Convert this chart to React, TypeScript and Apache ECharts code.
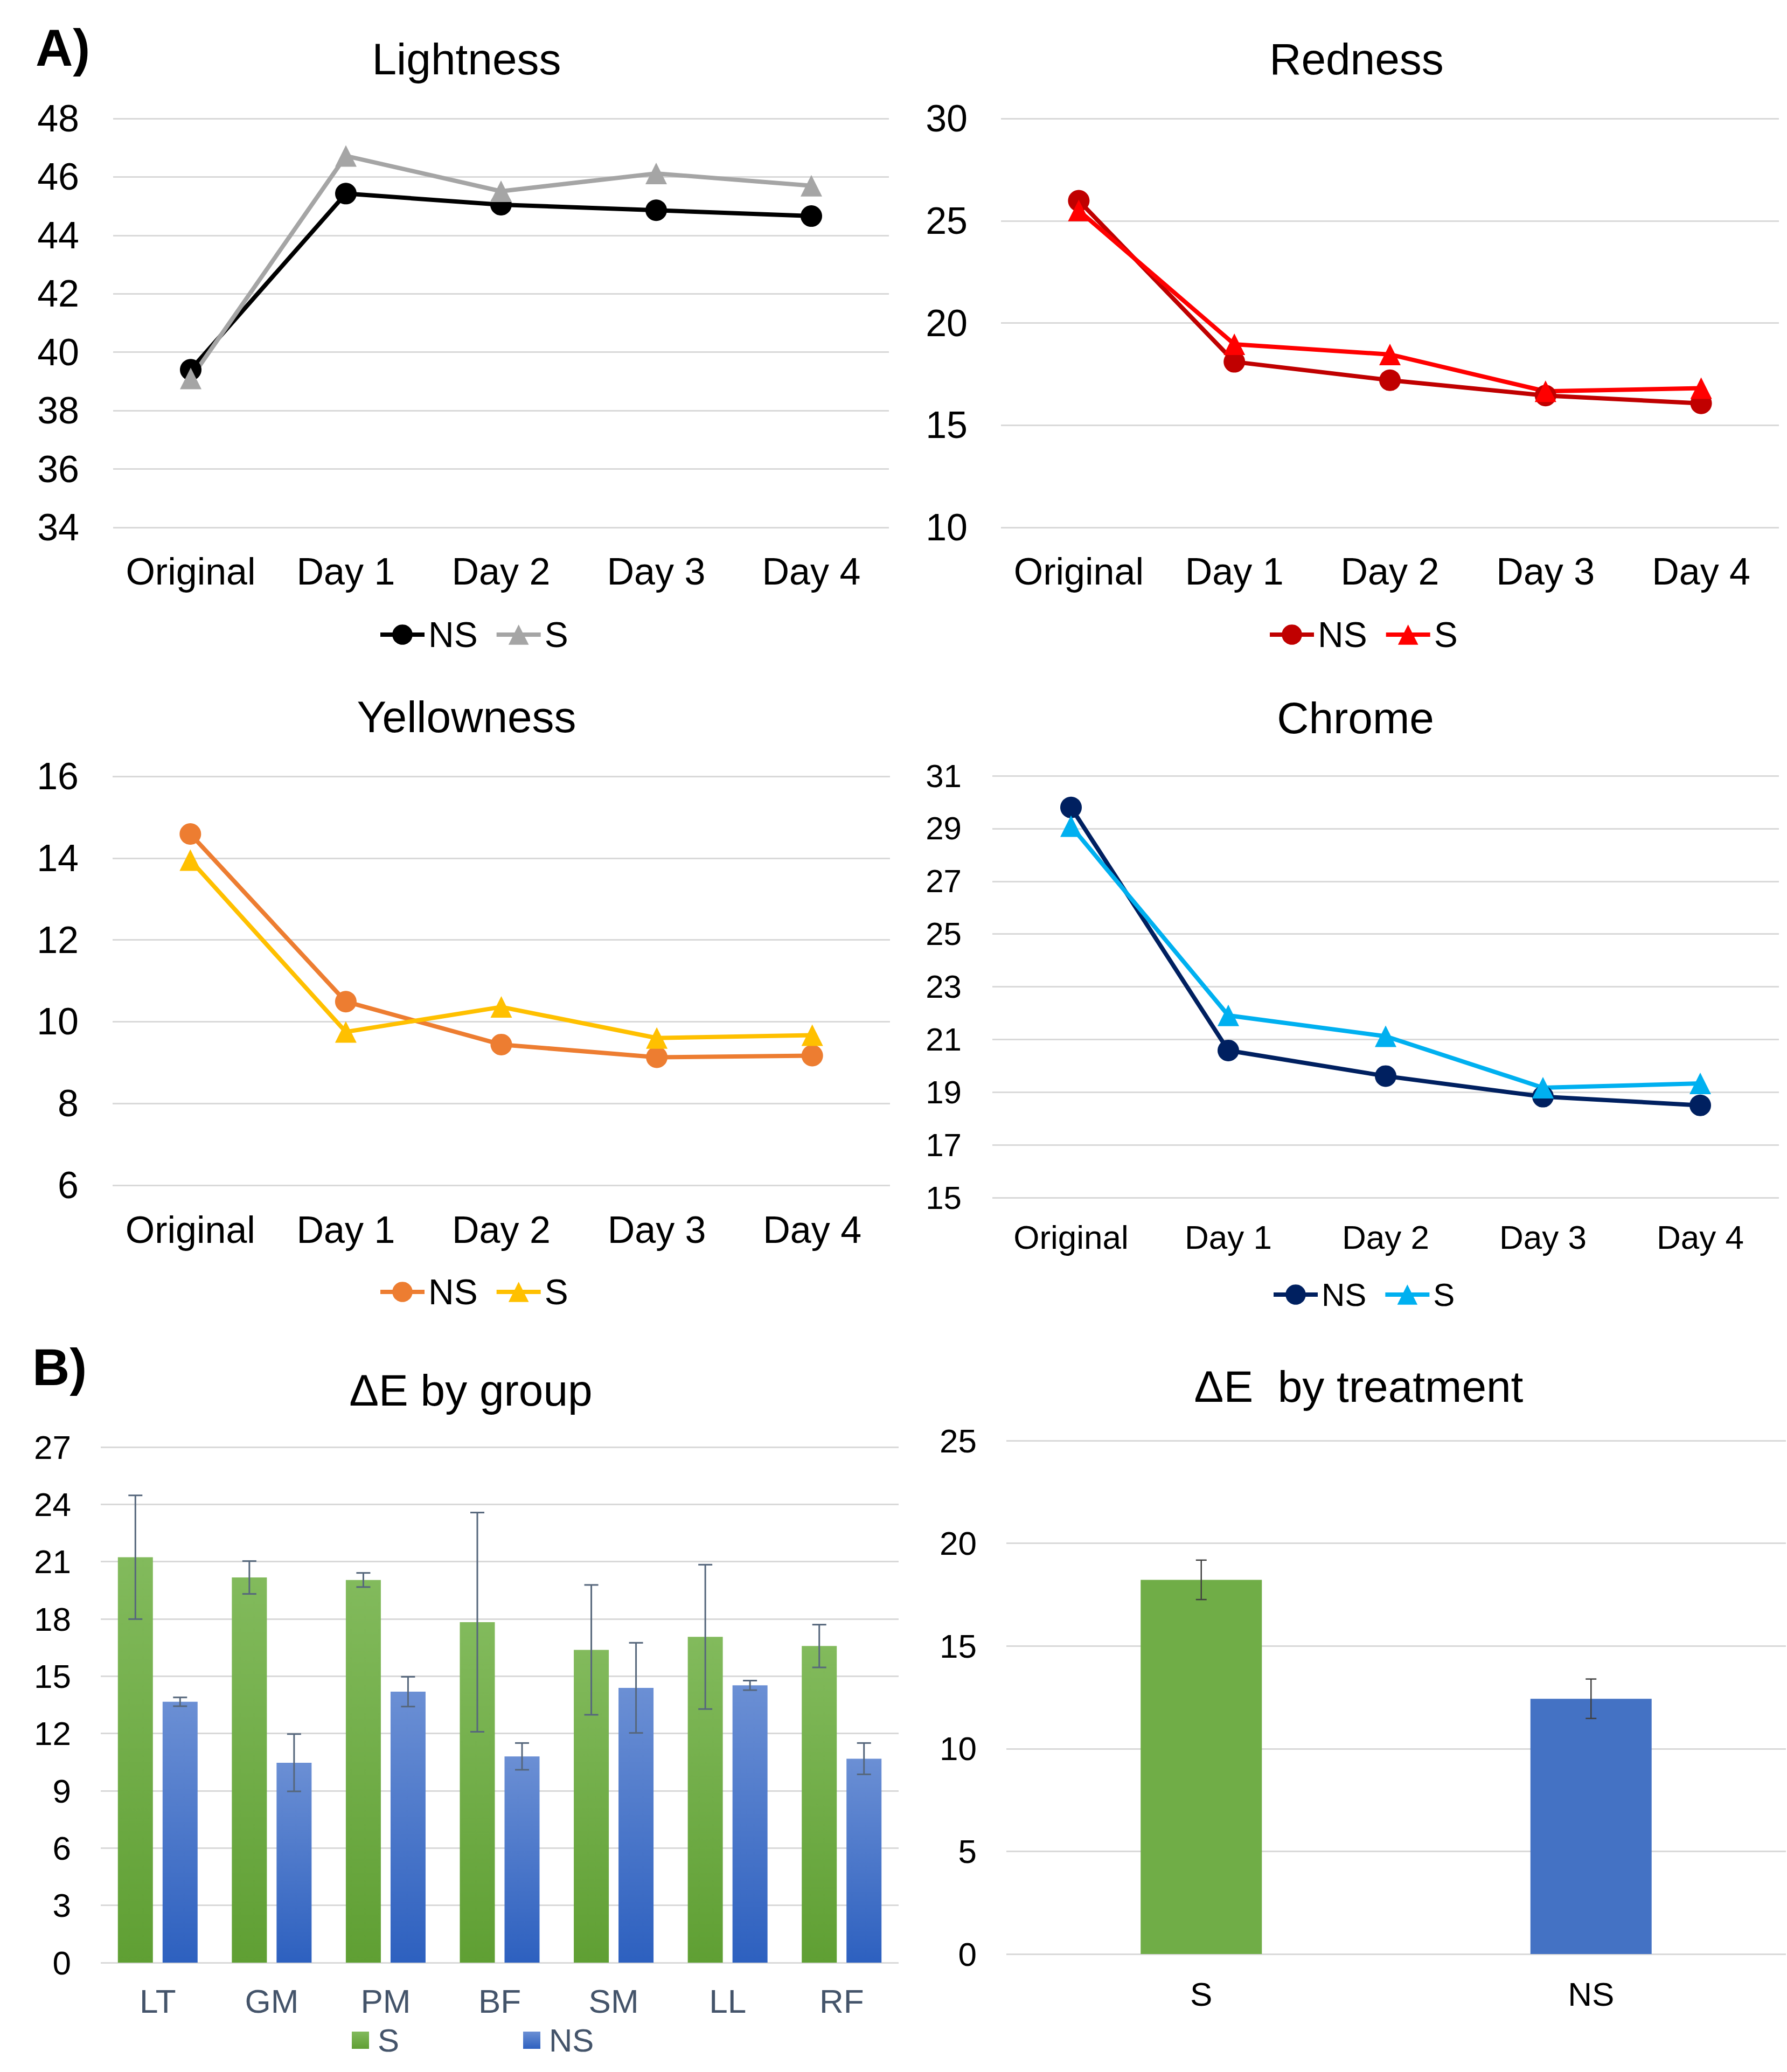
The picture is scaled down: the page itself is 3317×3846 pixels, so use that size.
import React, { useEffect, useRef } from "react";
import * as echarts from "echarts";

// ---------- data ----------
const days = ["Original", "Day 1", "Day 2", "Day 3", "Day 4"];

const lightnessNS = [39.4, 45.43, 45.05, 44.86, 44.66];
const lightnessS = [39.1, 46.72, 45.51, 46.12, 45.7];

const rednessNS = [25.98, 18.1, 17.2, 16.45, 16.07];
const rednessS = [25.5, 18.96, 18.46, 16.66, 16.81];

const yellownessNS = [14.59, 10.49, 9.44, 9.13, 9.17];
const yellownessS = [13.95, 9.75, 10.36, 9.6, 9.67];

const chromeNS = [29.8, 20.58, 19.61, 18.83, 18.5];
const chromeS = [29.09, 21.91, 21.12, 19.17, 19.33];

const groups = ["LT", "GM", "PM", "BF", "SM", "LL", "RF"];
const groupS = [21.23, 20.17, 20.04, 17.83, 16.38, 17.06, 16.58];
const groupSErr = [3.24, 0.86, 0.37, 5.74, 3.4, 3.78, 1.12];
const groupNS = [13.66, 10.47, 14.19, 10.8, 14.39, 14.52, 10.68];
const groupNSErr = [0.23, 1.5, 0.78, 0.7, 2.36, 0.25, 0.82];

const treatments = ["S", "NS"];
const treatmentValues = [18.22, 12.43];
const treatmentErr = [0.96, 0.96];

// ---------- styles ----------
const FONT = "'Liberation Sans', Arial, sans-serif";
const PAGE_W = 3317;
const PAGE_H = 3846;
const GRID_COLOR = "#d9d9d9";
const LINE_W = 8;
const SYMBOL = 40;

function headText(text: string, x: number, y: number, size: number, bold = false, align = "center") {
  return {
    type: "text",
    x,
    y,
    silent: true,
    style: {
      text,
      fill: "#000",
      fontSize: size,
      fontFamily: FONT,
      fontWeight: bold ? "bold" : "normal",
      textAlign: align,
      align,
      textVerticalAlign: "middle",
      verticalAlign: "middle",
    },
  };
}

type LineCfg = {
  title: string;
  titleX: number;
  titleY: number;
  left: number;
  top: number;
  right: number;
  bottom: number;
  min: number;
  max: number;
  interval: number;
  ns: number[];
  s: number[];
  nsColor: string;
  sColor: string;
  yFont: number;
  xFont: number;
  yMargin: number;
  xMargin: number;
  legendLeft: number;
  legendTop: number;
  legendFont: number;
  extra?: any[];
};

function lineOption(c: LineCfg) {
  return {
    animation: false,
    textStyle: { fontFamily: FONT },
    graphic: [headText(c.title, c.titleX, c.titleY, 82), ...(c.extra || [])],
    grid: {
      left: c.left,
      top: c.top,
      width: c.right - c.left,
      height: c.bottom - c.top,
      containLabel: false,
    },
    legend: {
      data: ["NS", "S"],
      left: c.legendLeft,
      top: c.legendTop,
      itemWidth: 82,
      itemHeight: 47,
      itemGap: 31,
      selectedMode: false,
      lineStyle: { width: LINE_W },
      textStyle: {
        fontSize: c.legendFont,
        color: "#000",
        fontFamily: FONT,
        padding: [0, 0, 0, 2],
      },
    },
    xAxis: {
      type: "category",
      data: days,
      boundaryGap: true,
      axisLine: { show: false },
      axisTick: { show: false },
      axisLabel: {
        interval: 0,
        fontSize: c.xFont,
        color: "#000",
        fontFamily: FONT,
        margin: c.xMargin,
      },
    },
    yAxis: {
      type: "value",
      min: c.min,
      max: c.max,
      interval: c.interval,
      axisLine: { show: false },
      axisTick: { show: false },
      axisLabel: {
        fontSize: c.yFont,
        color: "#000",
        fontFamily: FONT,
        margin: c.yMargin,
      },
      splitLine: { show: true, lineStyle: { color: GRID_COLOR, width: 3 } },
    },
    series: [
      {
        name: "NS",
        type: "line",
        data: c.ns,
        symbol: "circle",
        symbolSize: SYMBOL,
        lineStyle: { color: c.nsColor, width: LINE_W },
        itemStyle: { color: c.nsColor },
      },
      {
        name: "S",
        type: "line",
        data: c.s,
        symbol: "triangle",
        symbolSize: SYMBOL,
        lineStyle: { color: c.sColor, width: LINE_W },
        itemStyle: { color: c.sColor },
      },
    ],
  };
}

function errorSeries(name: string, values: number[], errs: number[], offset: number, cap: number, color: string, width: number) {
  return {
    name,
    type: "custom",
    z: 10,
    silent: true,
    data: values.map((v, i) => [i, v, errs[i]]),
    renderItem: (params: any, api: any) => {
      const idx = api.value(0);
      const v = api.value(1);
      const e = api.value(2);
      const top = api.coord([idx, v + e]);
      const bot = api.coord([idx, v - e]);
      const x = top[0] + offset;
      const style = { stroke: color, lineWidth: width };
      return {
        type: "group",
        children: [
          { type: "line", shape: { x1: x, y1: top[1], x2: x, y2: bot[1] }, style },
          { type: "line", shape: { x1: x - cap, y1: top[1], x2: x + cap, y2: top[1] }, style },
          { type: "line", shape: { x1: x - cap, y1: bot[1], x2: x + cap, y2: bot[1] }, style },
        ],
      };
    },
  };
}

function grad(top: string, bottom: string) {
  return {
    type: "linear",
    x: 0,
    y: 0,
    x2: 0,
    y2: 1,
    colorStops: [
      { offset: 0, color: top },
      { offset: 1, color: bottom },
    ],
  };
}

const GROUP_BAR_W = 65;
const GROUP_BAR_GAP = 18;

function groupOption() {
  const off = (GROUP_BAR_W + GROUP_BAR_GAP) / 2;
  return {
    animation: false,
    textStyle: { fontFamily: FONT },
    graphic: [headText("ΔE by group", 874, 2580, 82), headText("B)", 60, 2537, 96, true, "left")],
    grid: { left: 187, top: 2686, width: 1481, height: 957, containLabel: false },
    legend: {
      data: ["S", "NS"],
      left: 648,
      top: 3752,
      icon: "rect",
      itemWidth: 32,
      itemHeight: 32,
      itemGap: 230,
      selectedMode: false,
      textStyle: { fontSize: 60, color: "#44546A", fontFamily: FONT, padding: [0, 0, 0, 11] },
    },
    xAxis: {
      type: "category",
      data: groups,
      axisLine: { show: false },
      axisTick: { show: false },
      axisLabel: { interval: 0, fontSize: 62, color: "#44546A", fontFamily: FONT, margin: 40 },
    },
    yAxis: {
      type: "value",
      min: 0,
      max: 27,
      interval: 3,
      axisLine: { show: false },
      axisTick: { show: false },
      axisLabel: { fontSize: 62, color: "#000", fontFamily: FONT, margin: 55 },
      splitLine: { show: true, lineStyle: { color: GRID_COLOR, width: 3 } },
    },
    series: [
      {
        name: "S",
        type: "bar",
        data: groupS,
        barWidth: GROUP_BAR_W,
        barGap: `${(GROUP_BAR_GAP / GROUP_BAR_W) * 100}%`,
        itemStyle: { color: grad("#82ba5c", "#5f9f33") },
      },
      {
        name: "NS",
        type: "bar",
        data: groupNS,
        barWidth: GROUP_BAR_W,
        barGap: `${(GROUP_BAR_GAP / GROUP_BAR_W) * 100}%`,
        itemStyle: { color: grad("#6b8fd4", "#2d60bf") },
      },
      errorSeries("S error", groupS, groupSErr, -off, 13, "#56677c", 3),
      errorSeries("NS error", groupNS, groupNSErr, off, 13, "#56677c", 3),
    ],
  };
}

const TREATMENT_COLORS = ["#70ad47", "#4472c4"];

function treatmentOption() {
  return {
    animation: false,
    textStyle: { fontFamily: FONT },
    graphic: [headText("ΔE  by treatment", 2522, 2573, 82)],
    grid: { left: 1868, top: 2674, width: 1447, height: 953, containLabel: false },
    xAxis: {
      type: "category",
      data: treatments,
      axisLine: { show: false },
      axisTick: { show: false },
      axisLabel: { interval: 0, fontSize: 62, color: "#000", fontFamily: FONT, margin: 43 },
    },
    yAxis: {
      type: "value",
      min: 0,
      max: 25,
      interval: 5,
      axisLine: { show: false },
      axisTick: { show: false },
      axisLabel: { fontSize: 62, color: "#000", fontFamily: FONT, margin: 55 },
      splitLine: { show: true, lineStyle: { color: GRID_COLOR, width: 3 } },
    },
    series: [
      {
        name: "ΔE",
        type: "bar",
        barWidth: 225,
        data: treatmentValues.map((v, i) => ({ value: v, itemStyle: { color: TREATMENT_COLORS[i] } })),
      },
      errorSeries("error", treatmentValues, treatmentErr, 0, 10, "#404040", 2.5),
    ],
  };
}

const options: any[] = [
  lineOption({
    title: "Lightness",
    titleX: 866,
    titleY: 109,
    left: 210,
    top: 220,
    right: 1650,
    bottom: 979,
    min: 34,
    max: 48,
    interval: 2,
    ns: lightnessNS,
    s: lightnessS,
    nsColor: "#000000",
    sColor: "#a5a5a5",
    yFont: 70,
    xFont: 70,
    yMargin: 63,
    xMargin: 47,
    legendLeft: 697,
    legendTop: 1140,
    legendFont: 66,
    extra: [headText("A)", 66, 88, 96, true, "left")],
  }),
  lineOption({
    title: "Redness",
    titleX: 2518,
    titleY: 109,
    left: 1858,
    top: 220,
    right: 3302,
    bottom: 979,
    min: 10,
    max: 30,
    interval: 5,
    ns: rednessNS,
    s: rednessS,
    nsColor: "#c00000",
    sColor: "#ff0000",
    yFont: 70,
    xFont: 70,
    yMargin: 62,
    xMargin: 47,
    legendLeft: 2348,
    legendTop: 1140,
    legendFont: 66,
  }),
  lineOption({
    title: "Yellowness",
    titleX: 866,
    titleY: 1330,
    left: 209,
    top: 1441,
    right: 1652,
    bottom: 2200,
    min: 6,
    max: 16,
    interval: 2,
    ns: yellownessNS,
    s: yellownessS,
    nsColor: "#ed7d31",
    sColor: "#ffc000",
    yFont: 70,
    xFont: 70,
    yMargin: 63,
    xMargin: 48,
    legendLeft: 697,
    legendTop: 2360,
    legendFont: 66,
  }),
  lineOption({
    title: "Chrome",
    titleX: 2516,
    titleY: 1332,
    left: 1842,
    top: 1440,
    right: 3302,
    bottom: 2223,
    min: 15,
    max: 31,
    interval: 2,
    ns: chromeNS,
    s: chromeS,
    nsColor: "#002060",
    sColor: "#00b0f0",
    yFont: 60,
    xFont: 62,
    yMargin: 57,
    xMargin: 42,
    legendLeft: 2355,
    legendTop: 2368,
    legendFont: 60,
  }),
  groupOption(),
  treatmentOption(),
];

function Layer({ option }: { option: any }) {
  const ref = useRef<HTMLDivElement>(null);
  useEffect(() => {
    if (!ref.current) return;
    const chart = echarts.init(ref.current, null, { renderer: "svg" });
    chart.setOption(option);
    return () => chart.dispose();
  }, [option]);
  return (
    <div
      ref={ref}
      style={{ position: "absolute", left: 0, top: 0, width: PAGE_W, height: PAGE_H }}
    />
  );
}

export default function App() {
  return (
    <div
      style={{
        position: "absolute",
        left: 0,
        top: 0,
        width: PAGE_W,
        height: PAGE_H,
        background: "#ffffff",
        overflow: "hidden",
      }}
    >
      {options.map((o, i) => (
        <Layer key={i} option={o} />
      ))}
    </div>
  );
}
